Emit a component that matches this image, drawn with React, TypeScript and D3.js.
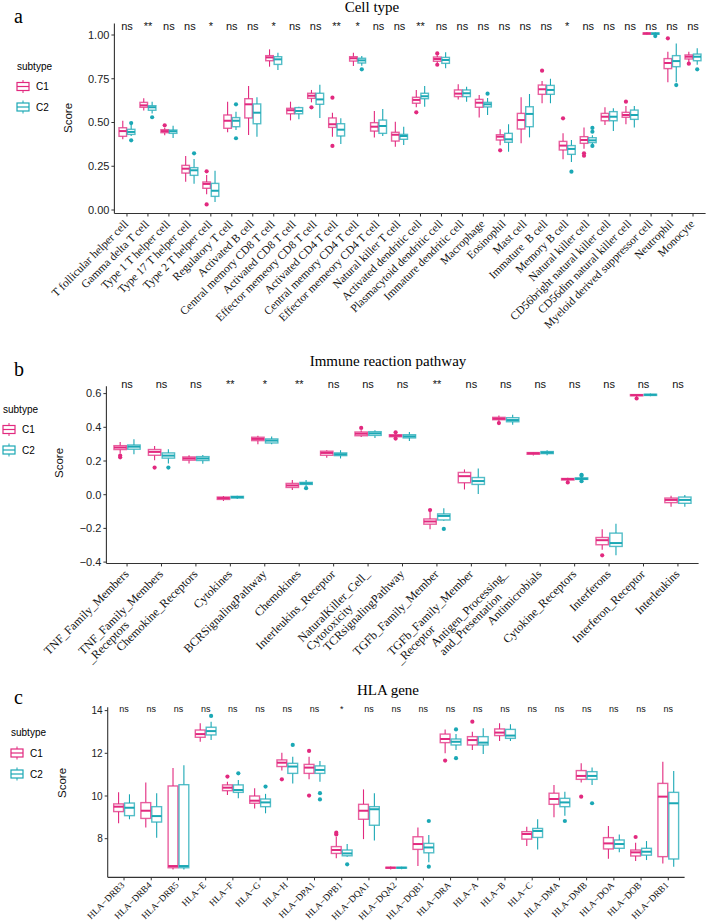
import React from 'react';
import * as d3 from 'd3';

const COL1 = '#E2297F';
const COL2 = '#1BA8B5';
const SANS = '"Liberation Sans", Arial, sans-serif';
const SERIF = '"Liberation Serif", "Times New Roman", serif';

// ---------------- Panel a: Cell type ----------------
const cellTypes = ['T follicular helper cell', 'Gamma delta T cell', 'Type 1 T helper cell', 'Type 17 T helper cell', 'Type 2 T helper cell', 'Regulatory T cell', 'Activated B cell', 'Central memory CD8 T cell', 'Activated CD8 T cell', 'Effector memeory CD8 T cell', 'Activated CD4 T cell', 'Central memory CD4 T cell', 'Effector memeory CD4 T cell', 'Natural killer T cell', 'Activated dendritic cell', 'Plasmacytoid dendritic cell', 'Immature dendritic cell', 'Macrophage', 'Eosinophil', 'Mast cell', 'Immature  B cell', 'Memory B cell', 'Natural killer cell', 'CD56bright natural killer cell', 'CD56dim natural killer cell', 'Myeloid derived suppressor cell', 'Neutrophil', 'Monocyte'];
const cellSig = ['ns', '**', 'ns', 'ns', '*', 'ns', 'ns', '*', 'ns', 'ns', '**', '*', 'ns', 'ns', '**', 'ns', 'ns', 'ns', 'ns', 'ns', 'ns', '*', 'ns', 'ns', 'ns', 'ns', 'ns', 'ns'];
// [lower whisker, Q1, median, Q3, upper whisker]
const cellC1 = [
  [.404, .421, .451, .470, .510], [.568, .587, .598, .615, .638], [.427, .442, .451, .459, .470], [.162, .211, .236, .255, .309],
  [.09, .124, .149, .160, .20], [.444, .467, .510, .543, .619], [.429, .526, .604, .636, .709], [.819, .853, .872, .882, .918],
  [.512, .550, .570, .581, .619], [.615, .638, .653, .667, .686], [.419, .472, .490, .526, .556], [.823, .851, .867, .876, .899],
  [.415, .451, .476, .499, .566], [.362, .394, .430, .444, .505], [.587, .610, .629, .644, .686], [.84, .850, .863, .874, .885],
  [.632, .648, .665, .686, .718], [.528, .587, .613, .632, .657], [.37, .40, .419, .430, .461], [.381, .463, .514, .552, .644],
  [.610, .661, .690, .714, .737], [.29, .343, .368, .392, .438], [.35, .381, .40, .419, .472], [.486, .510, .533, .552, .587],
  [.490, .530, .543, .558, .594], [1.0, 1.004, 1.009, 1.012, 1.016], [.730, .808, .840, .865, .905], [.845, .863, .876, .886, .905],
];
const cellC2 = [
  [.423, .432, .446, .461, .486], [.552, .570, .587, .596, .619], [.411, .438, .450, .457, .482], [.150, .198, .227, .242, .291],
  [.046, .078, .110, .152, .225], [.457, .476, .510, .528, .562], [.419, .493, .556, .606, .644], [.80, .832, .861, .876, .899],
  [.518, .550, .566, .585, .590], [.526, .604, .632, .667, .716], [.377, .423, .459, .493, .524], [.825, .840, .855, .867, .88],
  [.423, .438, .48, .514, .577], [.371, .404, .423, .432, .476], [.590, .636, .650, .667, .709], [.81, .838, .857, .872, .901],
  [.619, .648, .667, .686, .705], [.543, .589, .604, .615, .64], [.333, .387, .404, .438, .490], [.415, .476, .549, .590, .663],
  [.610, .661, .686, .712, .750], [.274, .318, .349, .368, .40], [.377, .385, .398, .413, .427], [.451, .510, .533, .562, .581],
  [.472, .518, .543, .571, .594], [1.0, 1.004, 1.008, 1.012, 1.016], [.73, .819, .851, .882, .952], [.83, .853, .876, .891, .924],
];
const cellC1Out = [[], [], [.484], [], [.221, .032], [], [], [], [], [.587], [.642, .366], [], [], [], [.558], [.895, .830], [], [], [.341], [], [.796], [.524], [.324, .310], [], [.619], [], [.981], [.836]];
const cellC2Out = [[.497, .398], [.530], [], [.324], [], [.604, .410], [], [], [], [], [], [.804], [], [], [], [], [], [.665], [], [], [], [.219], [.469, .447, .366], [], [], [.994], [.714], [.804]];

// ---------------- Panel b: Immune reaction pathway ----------------
const pathways = ['TNF_Family_Members', 'TNF_Family_Members\n_Receptors', 'Chemokine_Receptors', 'Cytokines', 'BCRSignalingPathway', 'Chemokines', 'Interleukins_Receptor', 'NaturalKiller_Cell_\nCytotoxicity', 'TCRsignalingPathway', 'TGFb_Family_Member', 'TGFb_Family_Member\n_Receptor', 'Antigen_Processing_\nand_Presentation', 'Antimicrobials', 'Cytokine_Receptors', 'Interferons', 'Interferon_Receptor', 'Interleukins'];
const pathSig = ['ns', 'ns', 'ns', '**', '*', '**', 'ns', 'ns', 'ns', '**', 'ns', 'ns', 'ns', 'ns', 'ns', 'ns', 'ns'];
const pathC1 = [
  [.245, .268, .280, .291, .313], [.205, .234, .254, .268, .289], [.185, .205, .215, .224, .234], [-.037, -.028, -.020, -.014, -.008],
  [.299, .321, .331, .341, .350], [.028, .043, .055, .067, .087], [.220, .234, .248, .258, .264], [.343, .350, .362, .372, .382],
  [.340, .344, .350, .356, .362], [-.205, -.175, -.159, -.144, -.10], [.031, .071, .110, .132, .150], [.432, .445, .451, .459, .470],
  [.232, .240, .246, .250, .254], [.082, .087, .093, .096, .100], [-.327, -.297, -.270, -.254, -.205], [.58, .587, .591, .594, .598],
  [-.071, -.047, -.031, -.020, -.006],
];
const pathC2 = [
  [.240, .270, .285, .295, .329], [.185, .217, .232, .248, .270], [.183, .203, .215, .226, .236], [-.026, -.020, -.014, -.010, -.006],
  [.299, .307, .321, .331, .346], [.050, .061, .067, .073, .087], [.215, .232, .240, .248, .264], [.337, .352, .364, .374, .382],
  [.319, .337, .346, .356, .372], [-.155, -.150, -.126, -.114, -.081], [.004, .061, .081, .102, .156], [.415, .433, .443, .457, .474],
  [.234, .244, .250, .256, .264], [.085, .091, .094, .100, .106], [-.360, -.307, -.287, -.228, -.173], [.585, .589, .593, .596, .600],
  [-.071, -.051, -.031, -.014, -.002],
];
const pathC1Out = [[.232, .222], [.161], [], [], [], [], [], [.396], [.370, .333], [-.091], [], [.425], [], [.073], [-.360], [.571], []];
const pathC2Out = [[], [.161], [], [], [], [.039], [], [], [], [-.203], [], [], [], [.118, .112, .080], [], [], []];

// ---------------- Panel c: HLA gene ----------------
const hlaGenes = ['HLA\u2212DRB3', 'HLA\u2212DRB4', 'HLA\u2212DRB5', 'HLA\u2212E', 'HLA\u2212F', 'HLA\u2212G', 'HLA\u2212H', 'HLA\u2212DPA1', 'HLA\u2212DPB1', 'HLA\u2212DQA1', 'HLA\u2212DQA2', 'HLA\u2212DQB1', 'HLA\u2212DRA', 'HLA\u2212A', 'HLA\u2212B', 'HLA\u2212C', 'HLA\u2212DMA', 'HLA\u2212DMB', 'HLA\u2212DOA', 'HLA\u2212DOB', 'HLA\u2212DRB1'];
const hlaSig = ['ns', 'ns', 'ns', 'ns', 'ns', 'ns', 'ns', 'ns', '*', 'ns', 'ns', 'ns', 'ns', 'ns', 'ns', 'ns', 'ns', 'ns', 'ns', 'ns', 'ns'];
const hlaC1 = [
  [8.72, 9.27, 9.5, 9.63, 10.17], [8.52, 8.95, 9.31, 9.69, 10.63], [6.56, 6.64, 6.72, 10.47, 11.31], [12.54, 12.75, 12.90, 13.09, 13.41],
  [10.05, 10.25, 10.39, 10.52, 10.67], [9.42, 9.66, 9.78, 10.0, 10.36], [11.19, 11.38, 11.56, 11.69, 12.03], [10.78, 11.06, 11.33, 11.48, 11.84],
  [7.08, 7.31, 7.47, 7.63, 8.09], [7.98, 8.91, 9.31, 9.61, 10.31], [6.56, 6.62, 6.64, 6.66, 6.70], [6.72, 7.5, 7.75, 8.09, 8.52],
  [12.0, 12.5, 12.67, 12.90, 13.12], [12.16, 12.39, 12.62, 12.78, 13.01], [12.58, 12.83, 12.97, 13.14, 13.41], [7.66, 7.98, 8.22, 8.33, 8.56],
  [9.0, 9.61, 9.86, 10.13, 10.52], [10.63, 10.78, 10.94, 11.19, 11.53], [7.06, 7.52, 7.78, 8.05, 8.59], [6.95, 7.19, 7.36, 7.47, 7.81],
  [6.84, 7.16, 9.97, 10.59, 11.61],
];
const hlaC2 = [
  [8.91, 9.08, 9.45, 9.67, 10.08], [8.05, 8.78, 9.06, 9.5, 10.13], [6.56, 6.64, 6.72, 10.53, 11.44], [12.62, 12.86, 13.04, 13.22, 13.48],
  [9.89, 10.17, 10.28, 10.52, 10.75], [9.19, 9.5, 9.70, 9.86, 10.1], [10.59, 11.06, 11.38, 11.53, 11.84], [10.67, 11.06, 11.22, 11.41, 11.64],
  [7.15, 7.20, 7.31, 7.47, 7.75], [7.91, 8.63, 9.38, 9.5, 10.13], [6.57, 6.62, 6.64, 6.66, 6.69], [6.9, 7.34, 7.59, 7.78, 8.17],
  [12.16, 12.39, 12.54, 12.67, 12.90], [11.97, 12.39, 12.50, 12.78, 13.17], [12.58, 12.70, 12.83, 13.12, 13.36], [7.5, 8.06, 8.36, 8.48, 8.91],
  [9.08, 9.5, 9.70, 9.89, 10.2], [10.52, 10.78, 10.94, 11.14, 11.33], [7.36, 7.55, 7.75, 7.94, 8.2], [7.0, 7.23, 7.39, 7.55, 7.89],
  [6.69, 7.05, 9.66, 10.17, 11.17],
];
const hlaC1Out = [[], [], [], [], [10.91], [], [10.78], [12.11, 10.02], [8.28, 8.2], [], [], [], [11.66], [13.48], [], [], [], [9.97], [], [8.08], []];
const hlaC2Out = [[], [], [], [13.75], [11.06], [10.44], [12.39], [10.13, 9.84], [6.80], [], [], [8.83, 6.69], [13.12, 11.77], [], [], [], [8.83], [9.66], [], [], []];

const subtypes = ['C1', 'C2'];

let ctx: CanvasRenderingContext2D | null = null;
function measure(text: string, font: string): number {
  try {
    if (!ctx) ctx = document.createElement('canvas').getContext('2d');
    if (ctx) {
      ctx.font = font;
      return ctx.measureText(text).width;
    }
  } catch (e) {}
  return text.length * 5;
}

type Cfg = {
  left: number; right: number; yRef: number[]; yPix: number[]; yLim: number[];
  ticks: number[]; fmt: (v: number) => string; tickSize: number;
  title: string; titleX: number; titleY: number; letter: string; letterY: number;
  sigY: number; sigSize: number; labelSize: number; lineGap: number; labelDy: number;
  legX: number; legY: number; legGap: number; legTextX: number;
  scoreX: number; scoreY: number;
};

function Panel({ cfg, cats, sig, s1, s2, o1, o2 }: any) {
  const c: Cfg = cfg;
  const x = d3.scaleBand<string>().domain(cats.map((_: string, i: number) => String(i)))
    .range([c.left, c.right]).paddingInner(0).paddingOuter(0.1);
  const step = x.step();
  const y = d3.scaleLinear().domain(c.yRef).range(c.yPix);
  const top = y(c.yLim[1]);
  const bottom = y(c.yLim[0]);
  const bw = 0.36 * step;
  const off = 0.2 * step;
  const cols = [COL1, COL2];
  const stats = [s1, s2];
  const outs = [o1, o2];
  const labelFont = `${c.labelSize}px "Liberation Serif"`;

  return (
    <g>
      <text x={14} y={c.letterY} fontFamily={SERIF} fontSize={20}>{c.letter}</text>
      <text x={c.titleX} y={c.titleY} fontFamily={SERIF} fontSize={15} textAnchor="middle">{c.title}</text>
      {/* legend */}
      <text x={c.legX} y={c.legY} fontFamily={SANS} fontSize={10} dominantBaseline="central">subtype</text>
      {subtypes.map((s, g) => {
        const ky = c.legY + c.legGap * (g + 1);
        const kx = c.legX;
        return (
          <g key={s}>
            <line x1={kx + 6} x2={kx + 6} y1={ky - 6.5} y2={ky + 6.5} stroke={cols[g]} strokeWidth={1} />
            <rect x={kx} y={ky - 4} width={12} height={8} fill="white" stroke={cols[g]} strokeWidth={1.2} />
            <line x1={kx} x2={kx + 12} y1={ky} y2={ky} stroke={cols[g]} strokeWidth={1.2} />
            <text x={kx + c.legTextX} y={ky} fontFamily={SANS} fontSize={10} dominantBaseline="central">{s}</text>
          </g>
        );
      })}
      {/* y axis */}
      <line x1={c.left} x2={c.left} y1={top} y2={bottom} stroke="#333" strokeWidth={1.1} />
      {c.ticks.map((t) => (
        <g key={t}>
          <line x1={c.left - 3} x2={c.left} y1={y(t)} y2={y(t)} stroke="#333" strokeWidth={1} />
          <text x={c.left - 5} y={y(t)} dy="0.35em" textAnchor="end" fontFamily={SANS} fontSize={c.tickSize} fill="#222">{c.fmt(t)}</text>
        </g>
      ))}
      <text transform={`translate(${c.scoreX},${c.scoreY}) rotate(-90)`} textAnchor="middle" fontFamily={SANS} fontSize={11.5} fill="#111">Score</text>
      {/* x axis */}
      <line x1={c.left} x2={c.right} y1={bottom} y2={bottom} stroke="#333" strokeWidth={1.1} />
      {cats.map((lab: string, i: number) => {
        const cx = (x(String(i)) as number) + step / 2;
        const lines = lab.split('\n');
        const widths = lines.map((l) => measure(l, labelFont));
        const W = Math.max(...widths);
        return (
          <g key={'x' + i}>
            <line x1={cx} x2={cx} y1={bottom} y2={bottom + 3} stroke="#333" strokeWidth={1} />
            <text transform={`translate(${cx - 4},${bottom + c.labelDy}) rotate(-45)`} fontFamily={SERIF} fontSize={c.labelSize} fill="#111" style={{ whiteSpace: 'pre' }}>
              {lines.map((l, j) => (
                <tspan key={j} x={-W} dy={j === 0 ? '0.75em' : `${c.lineGap}em`}>{l}</tspan>
              ))}
            </text>
            <text x={cx} y={c.sigY} textAnchor="middle" fontFamily={SANS} fontSize={c.sigSize} fill="#111">{sig[i]}</text>
          </g>
        );
      })}
      {/* boxes */}
      {cats.map((_: string, i: number) => {
        const cx0 = (x(String(i)) as number) + step / 2;
        return [0, 1].map((g) => {
          const cx = cx0 + (g === 0 ? -off : off);
          const [lo, q1, md, q3, hi] = stats[g][i];
          const col = cols[g];
          return (
            <g key={'b' + i + '-' + g}>
              <line x1={cx} x2={cx} y1={y(hi)} y2={y(q3)} stroke={col} strokeWidth={1.1} />
              <line x1={cx} x2={cx} y1={y(q1)} y2={y(lo)} stroke={col} strokeWidth={1.1} />
              <rect x={cx - bw / 2} y={y(q3)} width={bw} height={Math.max(0.5, y(q1) - y(q3))} fill="white" stroke={col} strokeOpacity={0.75} strokeWidth={1.4} />
              <line x1={cx - bw / 2} x2={cx + bw / 2} y1={y(md)} y2={y(md)} stroke={col} strokeWidth={2} />
              {outs[g][i].map((v: number, k: number) => (
                <circle key={k} cx={cx} cy={y(v)} r={2.1} fill={col} />
              ))}
            </g>
          );
        });
      })}
    </g>
  );
}

const cfgA: Cfg = {
  left: 114.4, right: 705.6, yRef: [0, 1], yPix: [210, 35], yLim: [-0.02, 1.066],
  ticks: [0, 0.25, 0.5, 0.75, 1], fmt: d3.format('.2f'), tickSize: 11,
  title: 'Cell type', titleX: 372, titleY: 12, letter: 'a', letterY: 23,
  sigY: 29.5, sigSize: 11, labelSize: 11.5, lineGap: 1.0, labelDy: 5,
  legX: 17, legY: 66, legGap: 20.5, legTextX: 19, scoreX: 72, scoreY: 118,
};
const cfgB: Cfg = {
  left: 106.4, right: 698.6, yRef: [0, 0.6], yPix: [494.7, 393.6], yLim: [-0.408, 0.644],
  ticks: [-0.4, -0.2, 0, 0.2, 0.4, 0.6], fmt: d3.format('.1f'), tickSize: 11,
  title: 'Immune reaction pathway', titleX: 388, titleY: 366, letter: 'b', letterY: 376,
  sigY: 387.5, sigSize: 11, labelSize: 12, lineGap: 1.0, labelDy: 5,
  legX: 3, legY: 409, legGap: 20.5, legTextX: 19, scoreX: 63, scoreY: 463,
};
const cfgC: Cfg = {
  left: 107.7, right: 684.6, yRef: [8, 12], yPix: [838.7, 753.3], yLim: [6.19, 14.16],
  ticks: [8, 10, 12, 14], fmt: d3.format('d'), tickSize: 10,
  title: 'HLA gene', titleX: 388, titleY: 695, letter: 'c', letterY: 704,
  sigY: 712, sigSize: 9, labelSize: 9.3, lineGap: 1.0, labelDy: 3.5,
  legX: 11, legY: 732, legGap: 21, legTextX: 19, scoreX: 66, scoreY: 783,
};

export default function App() {
  return (
    <svg width={708} height={923} style={{ position: 'absolute', left: 0, top: 0, background: 'white' }}>
      <rect width={708} height={923} fill="white" />
      <Panel cfg={cfgA} cats={cellTypes} sig={cellSig} s1={cellC1} s2={cellC2} o1={cellC1Out} o2={cellC2Out} />
      <Panel cfg={cfgB} cats={pathways} sig={pathSig} s1={pathC1} s2={pathC2} o1={pathC1Out} o2={pathC2Out} />
      <Panel cfg={cfgC} cats={hlaGenes} sig={hlaSig} s1={hlaC1} s2={hlaC2} o1={hlaC1Out} o2={hlaC2Out} />
    </svg>
  );
}
